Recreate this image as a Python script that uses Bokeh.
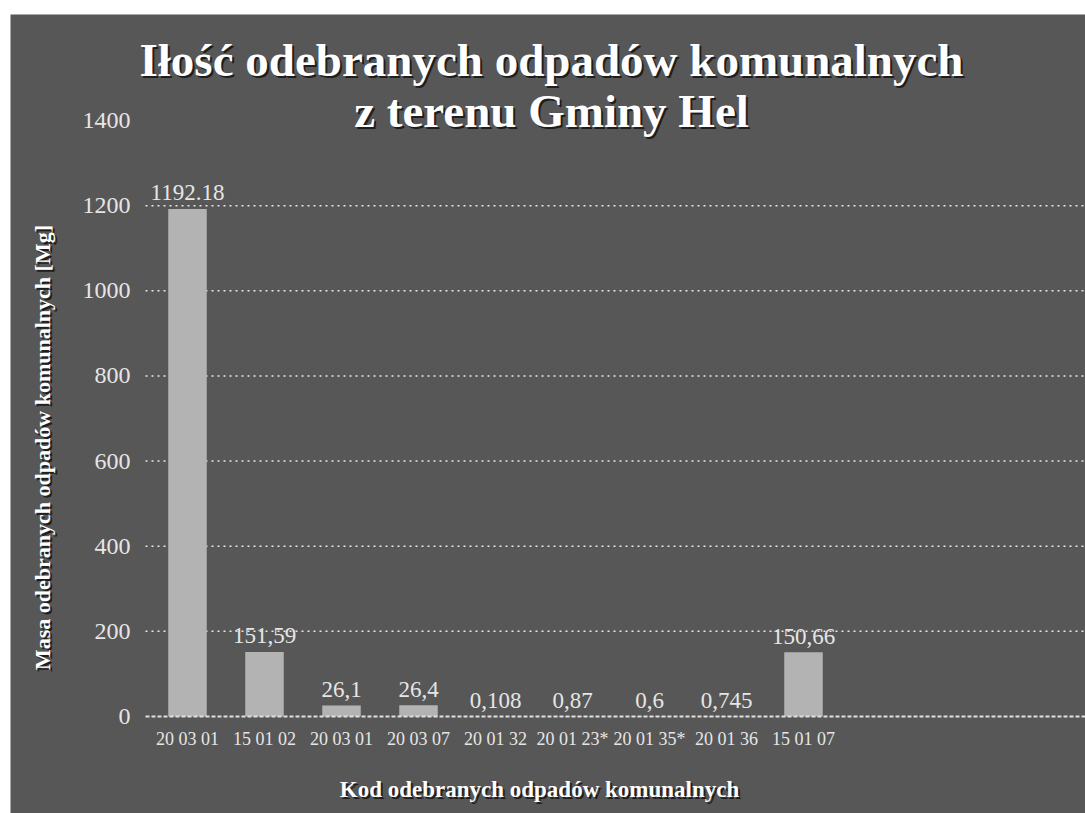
import math
from bokeh.plotting import figure
from bokeh.models import Label, FixedTicker, Range1d, ColumnDataSource
from bokeh.core.properties import value
from bokeh.embed import file_html
from bokeh.resources import INLINE

# ---- data ----
categories = ["20 03 01", "15 01 02", "20 03 01", "20 03 07", "20 01 32",
              "20 01 23*", "20 01 35*", "20 01 36", "15 01 07"]
values = [1192.18, 151.59, 26.1, 26.4, 0.108, 0.87, 0.6, 0.745, 150.66]
value_labels = ["1192.18", "151,59", "26,1", "26,4", "0,108", "0,87", "0,6", "0,745", "150,66"]
y_ticks = [0, 200, 400, 600, 800, 1000, 1200, 1400]
grid_ticks = [200, 400, 600, 800, 1000, 1200]

title_line1 = "Iłość odebranych odpadów komunalnych"
title_line2 = "z terenu Gminy Hel"
x_title = "Kod odebranych odpadów komunalnych"
y_title = "Masa odebranych odpadów komunalnych [Mg]"

BG = "#575757"
BAR = "#b3b3b3"
TXT = "#e6e6e6"
FONT = "Liberation Serif"

# ---- layout (canvas pixels) ----
W, H = 1085, 813
ML, MT = 10, 14                 # white strip like the scanned page
FW, FH = W - ML, H - MT         # frame size
AX_X, AX_Y0, AX_Y1400 = 145, 716, 120   # axis positions on canvas
SLOT = 77.0                     # pixels per category
C0 = 187                        # first category centre
ppu = (AX_Y0 - AX_Y1400) / 1400.0

x_start = -(C0 - ML) / SLOT
x_end = x_start + FW / SLOT
y_start = -(H - AX_Y0) / ppu
y_end = 1400 + (AX_Y1400 - MT) / ppu
yaxis_at = (AX_X - C0) / SLOT

xs = list(range(len(categories)))
src = ColumnDataSource(dict(x=xs, top=values, lab=value_labels))

p = figure(width=W, height=H, output_backend="svg", toolbar_location=None,
           x_range=Range1d(x_start, x_end), y_range=Range1d(y_start, y_end),
           min_border_left=ML, min_border_right=0, min_border_top=MT, min_border_bottom=0,
           background_fill_color=BG, border_fill_color="#ffffff", outline_line_color=None)

# grid lines (dotted), limited to the plot area right of the y axis
p.segment(x0=[yaxis_at] * len(grid_ticks), y0=grid_ticks,
          x1=[x_end] * len(grid_ticks), y1=grid_ticks,
          line_color="#e8e8e8", line_dash="2 4", line_width=1.5)

p.vbar(x="x", top="top", width=0.5, source=src, fill_color=BAR, line_color=None)
p.text(x="x", y="top", text="lab", source=src, text_align="center",
       text_baseline="alphabetic", y_offset=-16, text_color=TXT,
       text_font_size="23px", text_font=value(FONT))

# axes placed inside the frame
p.xgrid.visible = False
p.ygrid.visible = False

xa = p.xaxis[0]
xa.fixed_location = 0
xa.bounds = (yaxis_at, x_end)
xa.ticker = FixedTicker(ticks=xs)
xa.major_label_overrides = {i: c for i, c in enumerate(categories)}
xa.major_label_text_font = FONT
xa.major_label_text_font_size = "18px"
xa.major_label_text_color = TXT
xa.major_label_standoff = 6
xa.axis_line_color = "#e0e0e0"
xa.axis_line_dash = "4 2"
xa.axis_line_width = 2
xa.major_tick_line_color = None
xa.minor_tick_line_color = None

ya = p.yaxis[0]
ya.fixed_location = yaxis_at
ya.ticker = FixedTicker(ticks=y_ticks)
ya.major_label_text_font = FONT
ya.major_label_text_font_size = "24px"
ya.major_label_text_color = TXT
ya.major_label_standoff = 9
ya.axis_line_color = None
ya.major_tick_line_color = None
ya.minor_tick_line_color = None

def add_text(txt, cx, cy, size, angle=0.0):
    x = cx - ML
    y = H - cy
    for dx, dy, col in ((2, -2, "#1e1e1e"), (0, 0, "#ffffff")):
        p.add_layout(Label(x=x + dx, y=y + dy, x_units="screen", y_units="screen",
                           text=txt, text_font=FONT, text_font_size=size,
                           text_font_style="bold",
                           text_color=col, text_align="center", text_baseline="middle",
                           angle=angle))

add_text(title_line1, 551, 59, "47px")
add_text(title_line2, 551, 110, "47px")
add_text(x_title, 539, 789, "23px")
add_text(y_title, 42, 447, "22px", angle=math.pi / 2)

open("out.html", "w").write(file_html(p, INLINE))
